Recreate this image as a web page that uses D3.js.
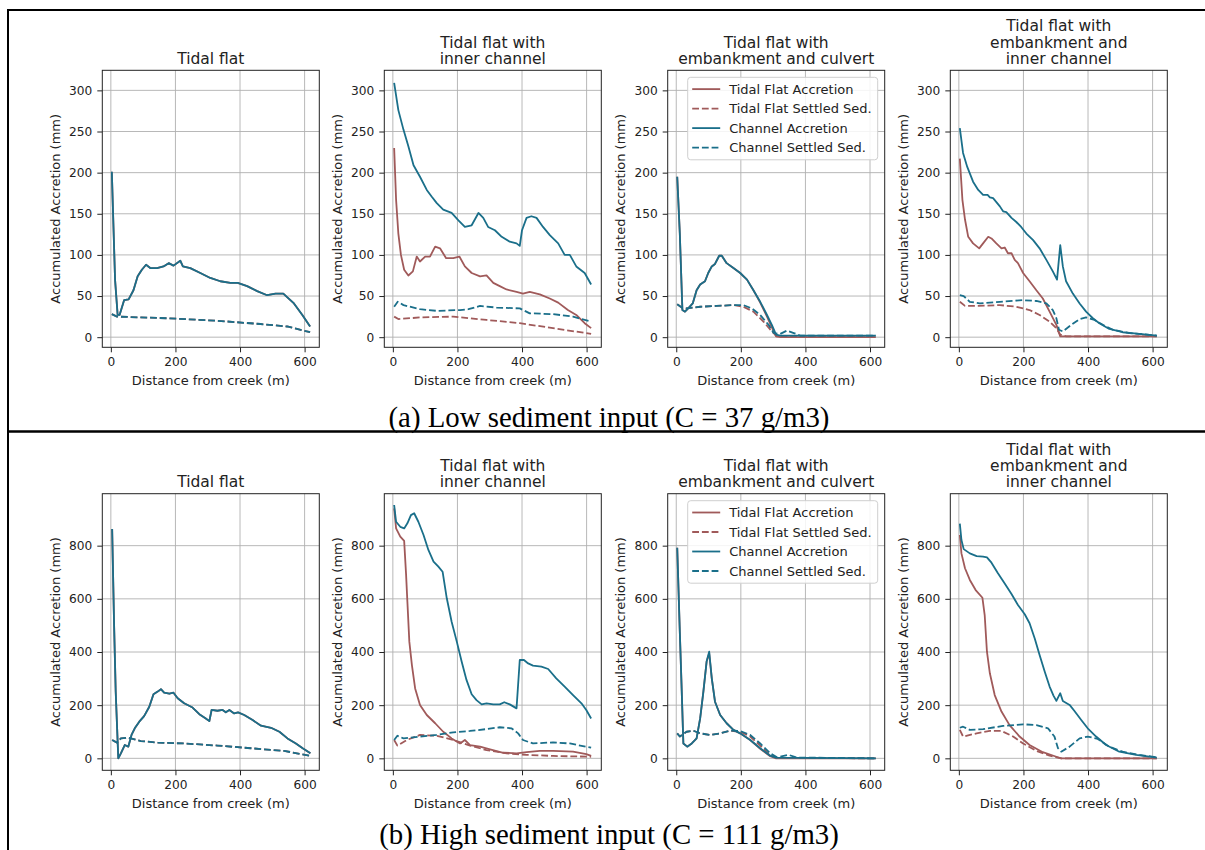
<!DOCTYPE html>
<html lang="en">
<head>
<meta charset="utf-8">
<title>Accumulated accretion along the tidal flat</title>
<script src="https://d3js.org/d3.v7.min.js"></script>
<style>
  body { margin: 0; background: #fff; }
  svg { display: block; }
  text { font-family: "DejaVu Sans", sans-serif; fill: #222; }
  .tick text { font-size: 12.2px; fill: #222; }
  .tick line { stroke: #222; }
  .domain { display: none; }
  .grid line { stroke: #b0b0b0; stroke-width: 0.9; }
  .frame { fill: none; stroke: #222; stroke-width: 1; }
  .title { font-size: 15.5px; text-anchor: middle; }
  .label { font-size: 13px; text-anchor: middle; }
  .legend text { font-size: 13px; }
  .caption { font-family: "Liberation Serif", "Times New Roman", serif; font-size: 28.8px; fill: #000; text-anchor: middle; }
  .rule { stroke: #000; }
</style>
</head>
<body>
<svg id="chart" width="1205" height="850"></svg>
<script>
// ---- data ----
var xTicks = [0, 200, 400, 600];
var lowTicks = [0, 50, 100, 150, 200, 250, 300];
var highTicks = [0, 200, 400, 600, 800];
var panelTitles = [
  ["Tidal flat"],
  ["Tidal flat with", "inner channel"],
  ["Tidal flat with", "embankment and culvert"],
  ["Tidal flat with", "embankment and", "inner channel"]
];
var seriesNames = ["Tidal Flat Accretion", "Tidal Flat Settled Sed.", "Channel Accretion", "Channel Settled Sed."];
var captions = ["(a) Low sediment input (C = 37 g/m3)", "(b) High sediment input (C = 111 g/m3)"];

// [distance from creek (m), accumulated accretion (mm)]
// (a) low input
var lowTF_chanAcc = [[3,201],[13,70],[21,27],[27,27],[41,45],[55,46],[70,57],[83,74],[96,82],[109,88],[122,84],[143,84],[163,86],[179,90],[194,87],[215,93],[223,86],[246,84],[277,78],[308,72],[339,68],[370,66],[393,66],[422,62],[453,56],[484,51],[510,53],[534,53],[567,41],[593,27],[617,13]];
var lowTF_chanSet = [[3,28],[19,25],[174,23],[329,20],[463,16],[546,13],[617,6]];
var lowTF_flatAcc = lowTF_chanAcc;
var lowTF_flatSet = lowTF_chanSet;

var lowIC_flatAcc = [[4,230],[10,167],[17,126],[25,100],[35,82],[48,75],[62,80],[74,98],[84,92],[100,98],[115,98],[131,110],[146,108],[165,96],[187,96],[206,98],[223,86],[244,78],[270,74],[290,75],[311,66],[331,62],[352,58],[383,55],[403,53],[424,55],[455,52],[486,47],[512,42],[542,33],[568,27],[594,17],[614,11]];
var lowIC_flatSet = [[4,25],[17,22],[84,24],[187,25],[290,21],[393,17],[496,11],[614,4]];
var lowIC_chanAcc = [[4,309],[17,276],[33,252],[48,232],[64,209],[84,195],[105,179],[120,171],[136,163],[156,155],[182,151],[203,142],[223,134],[244,136],[265,151],[280,145],[295,134],[316,130],[337,122],[362,116],[383,114],[393,111],[400,130],[414,145],[429,147],[445,145],[465,134],[486,124],[512,114],[532,100],[548,100],[568,86],[594,78],[614,64]];
var lowIC_chanSet = [[4,37],[15,43],[33,39],[84,34],[136,32],[208,33],[234,34],[270,38],[321,36],[393,35],[424,29],[496,28],[558,25],[614,19]];

var lowEC_flatAcc = [[3,195],[11,126],[19,33],[27,31],[37,35],[51,41],[63,57],[74,64],[89,68],[99,78],[110,86],[120,89],[133,99],[141,99],[156,90],[177,84],[198,78],[219,70],[239,57],[260,42],[281,25],[296,12],[309,1],[322,0],[618,0]];
var lowEC_flatSet = [[3,40],[17,36],[32,35],[74,37],[125,38],[177,39],[208,37],[239,31],[270,19],[296,7],[312,1],[618,0]];
var lowEC_chanAcc = [[3,195],[11,126],[19,33],[27,31],[37,35],[51,41],[63,57],[74,64],[89,68],[99,78],[110,86],[120,89],[133,99],[141,99],[156,90],[177,84],[198,78],[219,70],[239,57],[260,43],[281,27],[296,15],[309,3],[322,2],[618,2]];
var lowEC_chanSet = [[3,40],[17,36],[32,35],[74,37],[125,38],[177,39],[208,39],[234,35],[260,27],[286,15],[302,5],[322,4],[343,8],[364,5],[384,2],[618,2]];

var lowEI_flatAcc = [[3,217],[11,167],[19,143],[29,122],[44,114],[63,108],[75,114],[91,122],[101,120],[116,114],[132,108],[142,109],[152,102],[163,102],[173,94],[183,90],[199,78],[219,68],[240,57],[260,47],[281,31],[302,15],[314,1],[613,1]];
var lowEI_flatSet = [[3,43],[19,38],[55,38],[127,39],[178,37],[219,33],[250,27],[281,19],[302,11],[314,3],[332,1],[613,1]];
var lowEI_chanAcc = [[3,254],[13,224],[26,207],[44,189],[60,179],[75,173],[89,173],[96,170],[106,169],[127,159],[137,153],[147,152],[163,145],[178,140],[193,134],[209,126],[230,118],[250,108],[271,94],[291,80],[304,70],[314,112],[322,86],[332,68],[353,53],[374,41],[394,31],[415,23],[435,17],[466,10],[507,6],[559,4],[613,2]];
var lowEI_chanSet = [[3,51],[15,50],[34,43],[65,41],[127,43],[199,45],[240,44],[271,41],[291,33],[302,23],[310,9],[322,7],[348,15],[374,22],[394,24],[420,21],[446,15],[477,9],[528,5],[613,2]];

// (b) high input
var highTF_chanAcc = [[4,863],[10,502],[15,251],[23,0],[31,19],[43,50],[54,44],[64,88],[74,113],[88,138],[103,159],[119,194],[132,241],[145,251],[155,260],[165,247],[181,243],[194,247],[207,226],[227,207],[253,191],[274,166],[294,150],[305,140],[312,182],[330,179],[346,182],[356,173],[367,182],[382,169],[394,173],[413,163],[439,144],[465,123],[496,115],[522,100],[547,75],[573,56],[594,38],[618,19]];
var highTF_chanSet = [[4,69],[19,59],[31,75],[52,78],[93,65],[145,59],[227,56],[330,48],[434,38],[537,28],[618,9]];
var highTF_flatAcc = highTF_chanAcc;
var highTF_flatSet = highTF_chanSet;

var highIC_flatAcc = [[4,940],[10,865],[23,834],[35,818],[41,690],[45,589],[51,439],[59,351],[69,263],[84,201],[105,163],[131,132],[156,100],[182,75],[208,56],[223,69],[239,50],[270,44],[301,34],[342,21],[383,19],[414,23],[455,28],[496,28],[558,25],[599,16],[614,9]];
var highIC_flatSet = [[4,69],[14,48],[43,69],[84,88],[136,85],[187,69],[239,48],[290,31],[352,19],[414,13],[496,9],[614,6]];
var highIC_chanAcc = [[4,953],[10,890],[23,871],[35,865],[45,884],[56,915],[66,922],[79,890],[95,840],[110,784],[126,740],[141,721],[154,702],[167,602],[182,514],[198,439],[213,364],[228,295],[244,241],[259,219],[275,203],[290,207],[311,203],[331,203],[345,211],[362,203],[383,188],[393,370],[406,370],[419,357],[434,349],[460,345],[481,336],[506,301],[532,270],[558,238],[584,207],[599,182],[614,150]];
var highIC_chanSet = [[4,69],[14,85],[33,75],[84,82],[136,88],[187,98],[239,103],[290,110],[331,117],[367,113],[388,94],[403,69],[434,56],[496,60],[548,56],[614,40]];

var highEC_flatAcc = [[3,792],[11,476],[17,251],[22,56],[34,44],[48,56],[63,75],[74,150],[84,251],[94,364],[102,395],[110,301],[120,213],[136,163],[156,132],[177,107],[198,94],[229,69],[260,36],[291,8],[309,0],[618,0]];
var highEC_flatSet = [[3,94],[11,82],[32,100],[53,104],[74,94],[105,88],[136,94],[167,104],[198,100],[229,82],[260,48],[291,12],[312,2],[618,0]];
var highEC_chanAcc = [[3,792],[11,476],[17,251],[22,56],[34,44],[48,56],[63,75],[74,150],[84,251],[94,364],[102,401],[110,301],[120,213],[136,163],[156,132],[177,107],[198,94],[229,69],[260,38],[291,10],[309,3],[618,0]];
var highEC_chanSet = [[3,94],[11,82],[32,100],[53,104],[74,94],[105,88],[136,94],[167,104],[198,103],[229,88],[260,56],[291,19],[312,4],[348,13],[374,3],[618,0]];

var highEI_flatAcc = [[3,840],[8,771],[19,715],[34,671],[52,633],[73,604],[80,539],[87,401],[96,320],[111,238],[132,176],[157,125],[188,82],[219,50],[260,23],[302,6],[317,0],[613,0]];
var highEI_flatSet = [[3,107],[13,82],[55,94],[96,103],[132,103],[168,82],[199,56],[240,28],[281,10],[317,0],[613,0]];
var highEI_chanAcc = [[3,883],[8,821],[15,787],[34,771],[55,761],[75,759],[87,756],[101,736],[121,696],[142,658],[163,618],[183,577],[204,542],[219,508],[235,451],[250,389],[266,326],[281,270],[293,236],[302,216],[314,245],[322,216],[343,201],[358,178],[379,144],[399,113],[425,82],[456,50],[497,25],[549,13],[613,3]];
var highEI_chanSet = [[3,115],[13,119],[34,107],[75,110],[137,122],[199,128],[240,125],[276,113],[296,82],[307,38],[317,25],[343,44],[374,75],[399,82],[430,73],[466,44],[507,25],[559,13],[613,4]];

// ---- layout ----
var svg = d3.select("#chart");
var colors = ["#a05a5a", "#a05a5a", "#1a6f8a", "#1a6f8a"];
var dashes = [null, "6.8,2.9", null, "6.8,2.9"];
var panelLeft = [102.3, 384.3, 667.7, 950.3];
var panelWidth = 217;

var rows = [
  {top: 70.3, bottom: 347.3, domain: [-12.3, 324.4], ticks: lowTicks, caption: captions[0], capY: 426.8,
   panels: [
     [lowTF_flatAcc, lowTF_flatSet, lowTF_chanAcc, lowTF_chanSet],
     [lowIC_flatAcc, lowIC_flatSet, lowIC_chanAcc, lowIC_chanSet],
     [lowEC_flatAcc, lowEC_flatSet, lowEC_chanAcc, lowEC_chanSet],
     [lowEI_flatAcc, lowEI_flatSet, lowEI_chanAcc, lowEI_chanSet]]},
  {top: 493.7, bottom: 770.3, domain: [-45, 995.5], ticks: highTicks, caption: captions[1], capY: 843.5,
   panels: [
     [highTF_flatAcc, highTF_flatSet, highTF_chanAcc, highTF_chanSet],
     [highIC_flatAcc, highIC_flatSet, highIC_chanAcc, highIC_chanSet],
     [highEC_flatAcc, highEC_flatSet, highEC_chanAcc, highEC_chanSet],
     [highEI_flatAcc, highEI_flatSet, highEI_chanAcc, highEI_chanSet]]}
];

// outer table rules
svg.append("line").attr("class", "rule").attr("x1", 7).attr("x2", 1205).attr("y1", 10).attr("y2", 10).attr("stroke-width", 2);
svg.append("line").attr("class", "rule").attr("x1", 8).attr("x2", 8).attr("y1", 9).attr("y2", 850).attr("stroke-width", 2);

rows.forEach(function(row) {
  var y = d3.scaleLinear().domain(row.domain).range([row.bottom, row.top]);
  var h = row.bottom - row.top;

  row.panels.forEach(function(series, p) {
    var left = panelLeft[p];
    var x = d3.scaleLinear().domain([-26.5, 645.5]).range([left, left + panelWidth]);
    var g = svg.append("g");

    // grid
    var grid = g.append("g").attr("class", "grid");
    grid.selectAll(".gx").data(xTicks).enter().append("line")
      .attr("x1", function(d) { return x(d); }).attr("x2", function(d) { return x(d); })
      .attr("y1", row.top).attr("y2", row.bottom);
    grid.selectAll(".gy").data(row.ticks).enter().append("line")
      .attr("y1", function(d) { return y(d); }).attr("y2", function(d) { return y(d); })
      .attr("x1", left).attr("x2", left + panelWidth);

    // lines
    var line = d3.line()
      .x(function(d) { return x(d[0]); })
      .y(function(d) { return y(d[1]); });
    series.forEach(function(s, i) {
      g.append("path")
        .attr("d", line(s))
        .attr("fill", "none")
        .attr("stroke", colors[i])
        .attr("stroke-width", 1.8)
        .attr("stroke-dasharray", dashes[i])
        .attr("stroke-linejoin", "round");
    });

    // axes
    g.append("g").attr("transform", "translate(0," + row.bottom + ")")
      .call(d3.axisBottom(x).tickValues(xTicks).tickSize(5).tickPadding(5));
    g.append("g").attr("transform", "translate(" + left + ",0)")
      .call(d3.axisLeft(y).tickValues(row.ticks).tickSize(5).tickPadding(5));
    g.append("rect").attr("class", "frame")
      .attr("x", left).attr("y", row.top).attr("width", panelWidth).attr("height", h);

    // labels
    g.append("text").attr("class", "label")
      .attr("x", left + panelWidth / 2).attr("y", row.bottom + 38)
      .text("Distance from creek (m)");
    g.append("text").attr("class", "label")
      .attr("transform", "translate(" + (left - 47) + "," + (row.top + h / 2) + ") rotate(-90)")
      .attr("dy", "0.35em")
      .text("Accumulated Accretion (mm)");

    var lines = panelTitles[p];
    lines.forEach(function(t, k) {
      g.append("text").attr("class", "title")
        .attr("x", left + panelWidth / 2)
        .attr("y", row.top - 6.5 - (lines.length - 1 - k) * 16.3)
        .text(t);
    });

    // legend on the culvert panel
    if (p === 2) {
      var lg = g.append("g").attr("class", "legend")
        .attr("transform", "translate(" + (left + 20) + "," + (row.top + 7) + ")");
      lg.append("rect").attr("width", 190).attr("height", 82.5).attr("rx", 3)
        .attr("fill", "#fff").attr("fill-opacity", 0.85).attr("stroke", "#cfcfcf");
      seriesNames.forEach(function(name, i) {
        var cy = 11.8 + i * 19.5;
        lg.append("line").attr("x1", 4.5).attr("x2", 32.5).attr("y1", cy).attr("y2", cy)
          .attr("stroke", colors[i]).attr("stroke-width", 1.8).attr("stroke-dasharray", dashes[i]);
        lg.append("text").attr("x", 41.5).attr("y", cy).attr("dy", "0.36em").text(name);
      });
    }
  });

  svg.append("text").attr("class", "caption").attr("x", 609).attr("y", row.capY).text(row.caption);
});

// rule between the two rows
svg.append("line").attr("class", "rule").attr("x1", 7).attr("x2", 1205).attr("y1", 431.5).attr("y2", 431.5).attr("stroke-width", 2.5);
</script>
</body>
</html>
